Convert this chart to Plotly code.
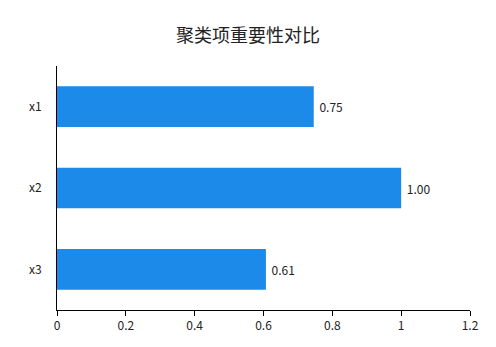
import plotly.graph_objects as go

categories = ["x1", "x2", "x3"]
values = [0.746, 1.00, 0.607]
labels = ["0.75", "1.00", "0.61"]
x_ticks = [0, 0.2, 0.4, 0.6, 0.8, 1, 1.2]
x_tick_text = ["0", "0.2", "0.4", "0.6", "0.8", "1", "1.2"]

FONT = "Noto Sans CJK SC, Microsoft YaHei, sans-serif"

fig = go.Figure(go.Bar(
    x=values, y=categories, orientation="h",
    marker=dict(color="#1B8AE8", line=dict(width=0)),
    text=labels, texttemplate=" %{text}", textposition="outside",
    textfont=dict(size=12, color="#222222", family=FONT),
    cliponaxis=False,
))

fig.update_layout(
    width=496, height=347,
    margin=dict(l=57, r=26, t=66, b=37),
    paper_bgcolor="white", plot_bgcolor="white",
    title=dict(text="聚类项重要性对比", x=0.5, xanchor="center", y=0.898, yanchor="middle",
               font=dict(size=18, color="#222222", family=FONT)),
    font=dict(family=FONT, size=12, color="#222222"),
    bargap=0.5,
    showlegend=False,
    xaxis=dict(range=[0, 1.2], tickvals=x_ticks, ticktext=x_tick_text,
               showgrid=False, zeroline=False, showline=True, linecolor="black", linewidth=1,
               ticks="outside", ticklen=5, tickcolor="black",
               tickfont=dict(size=12, color="#222222")),
    yaxis=dict(autorange="reversed", showgrid=False, zeroline=False,
               showline=True, linecolor="black", linewidth=1,
               ticks="", ticklabelstandoff=12,
               tickfont=dict(size=12, color="#222222")),
)

fig.write_html("out.html")
